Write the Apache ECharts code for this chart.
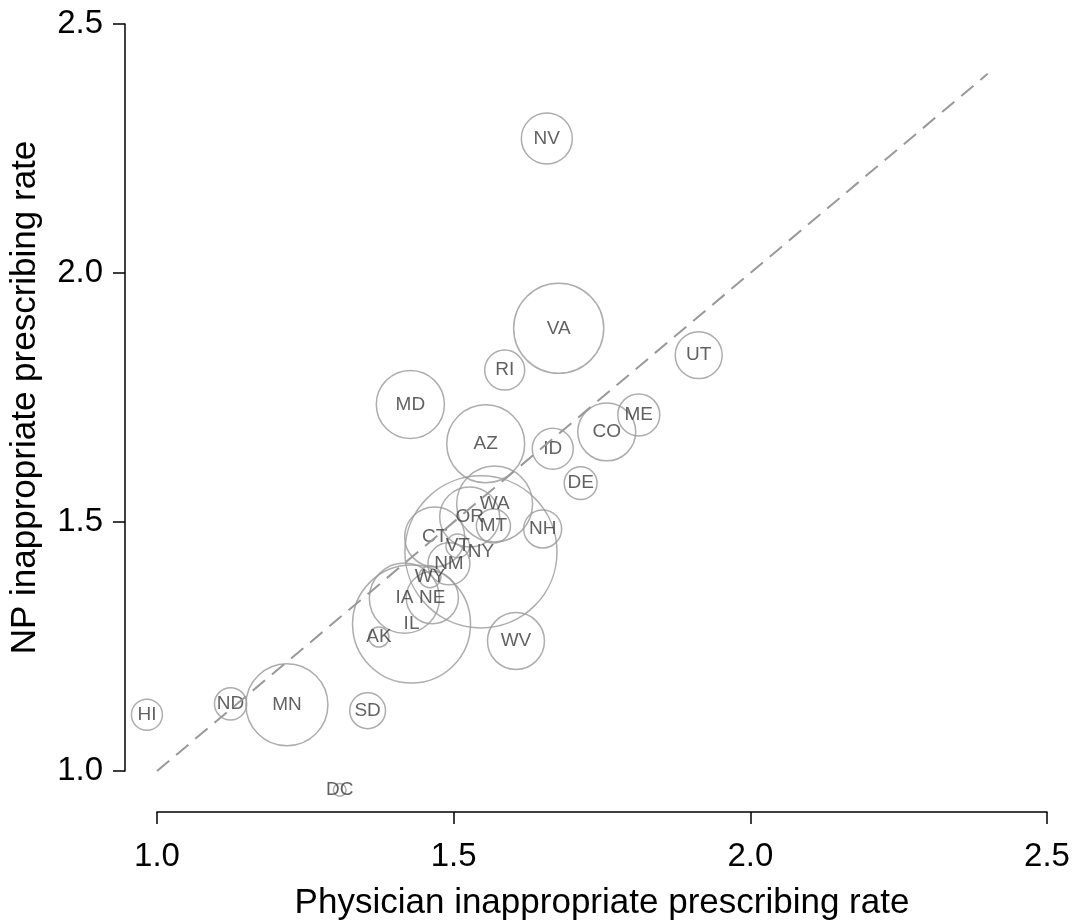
<!DOCTYPE html>
<html>
<head>
<meta charset="utf-8">
<title>NP vs physician inappropriate prescribing</title>
<script src="https://cdn.jsdelivr.net/npm/echarts@6/dist/echarts.min.js"></script>
<style>
  html, body { margin: 0; padding: 0; background: #fff; }
  #chart { width: 1074px; height: 921px; }
</style>
</head>
<body>
<div id="chart"></div>
<script>
// --- data ---
var states = ['NV', 'VA', 'UT', 'RI', 'MD', 'ME', 'CO', 'AZ', 'ID', 'DE',
  'WA', 'OR', 'MT', 'NH', 'CT', 'VT', 'NY', 'NM', 'WY', 'IA',
  'NE', 'IL', 'AK', 'WV', 'HI', 'ND', 'MN', 'SD', 'DC'];
var physRate = [1.657, 1.677, 1.913, 1.586, 1.427, 1.812, 1.758, 1.554, 1.667, 1.714,
  1.569, 1.527, 1.567, 1.650, 1.468, 1.507, 1.546, 1.492, 1.460, 1.417,
  1.464, 1.429, 1.374, 1.605, 0.983, 1.124, 1.219, 1.355, 1.308];
var npRate = [2.270, 1.889, 1.835, 1.805, 1.736, 1.715, 1.681, 1.657, 1.647, 1.578,
  1.536, 1.510, 1.492, 1.486, 1.470, 1.452, 1.440, 1.416, 1.390, 1.347,
  1.348, 1.295, 1.269, 1.261, 1.113, 1.135, 1.133, 1.121, 0.962];
// relative bubble weight (area)
var relSize = [6.5, 20.3, 5.5, 4.0, 11.6, 4.4, 8.4, 15.2, 4.2, 2.7,
  14.4, 9.0, 2.9, 3.6, 9.0, 1.4, 57.8, 4.4, 1.2, 12.3,
  6.8, 34.8, 1.0, 8.1, 2.4, 2.6, 16.8, 3.2, 0.4];
// identity reference line
var refLine = [[1.0, 1.0], [2.4, 2.4]];
var xTicks = [1.0, 1.5, 2.0, 2.5];
var yTicks = [1.0, 1.5, 2.0, 2.5];

var font = "'Liberation Sans', Arial, sans-serif";

var bubbles = [];
for (var i = 0; i < states.length; i++) {
  bubbles.push({ name: states[i], value: [physRate[i], npRate[i], relSize[i]] });
}

var myChart = echarts.init(document.getElementById('chart'), null, { renderer: 'canvas' });

function axisCommon(ticks, offset, name, nameGap) {
  return {
    type: 'value',
    min: ticks[0],
    max: ticks[ticks.length - 1],
    interval: 0.5,
    offset: offset,
    name: name,
    nameLocation: 'middle',
    nameGap: nameGap,
    nameMoveOverlap: false,
    nameTextStyle: { fontFamily: font, fontSize: 35, color: '#000' },
    axisLine: { show: true, onZero: false, lineStyle: { color: '#000', width: 1.5 } },
    axisTick: { show: true, length: 12, lineStyle: { color: '#000', width: 1.5 } },
    axisLabel: {
      fontFamily: font, fontSize: 33, color: '#000',
      formatter: function (v) { return v.toFixed(1); }
    },
    splitLine: { show: false }
  };
}

var xAxis = axisCommon(xTicks, 41, 'Physician inappropriate prescribing rate', 74);
xAxis.axisLabel.margin = 28;
var yAxis = axisCommon(yTicks, 32, 'NP inappropriate prescribing rate', 82);
yAxis.axisLabel.margin = 22;

myChart.setOption({
  animation: false,
  backgroundColor: '#fff',
  grid: { left: 157, right: 27, top: 24, bottom: 150, outerBoundsMode: 'none', containLabel: false },
  xAxis: xAxis,
  yAxis: yAxis,
  series: [{
    type: 'line',
    data: refLine,
    symbol: 'none',
    silent: true,
    lineStyle: { color: '#999', width: 2, type: [16, 9] }
  }, {
    type: 'scatter',
    clip: false,
    data: bubbles,
    symbol: 'circle',
    symbolSize: function (val) { return 20 * Math.sqrt(val[2]); },
    itemStyle: { color: 'rgba(0,0,0,0)', borderColor: '#999', borderWidth: 1.5 },
    label: {
      show: true,
      position: 'inside',
      formatter: '{b}',
      fontFamily: font,
      fontSize: 19,
      color: '#3a3a3a'
    }
  }]
});
</script>
</body>
</html>
